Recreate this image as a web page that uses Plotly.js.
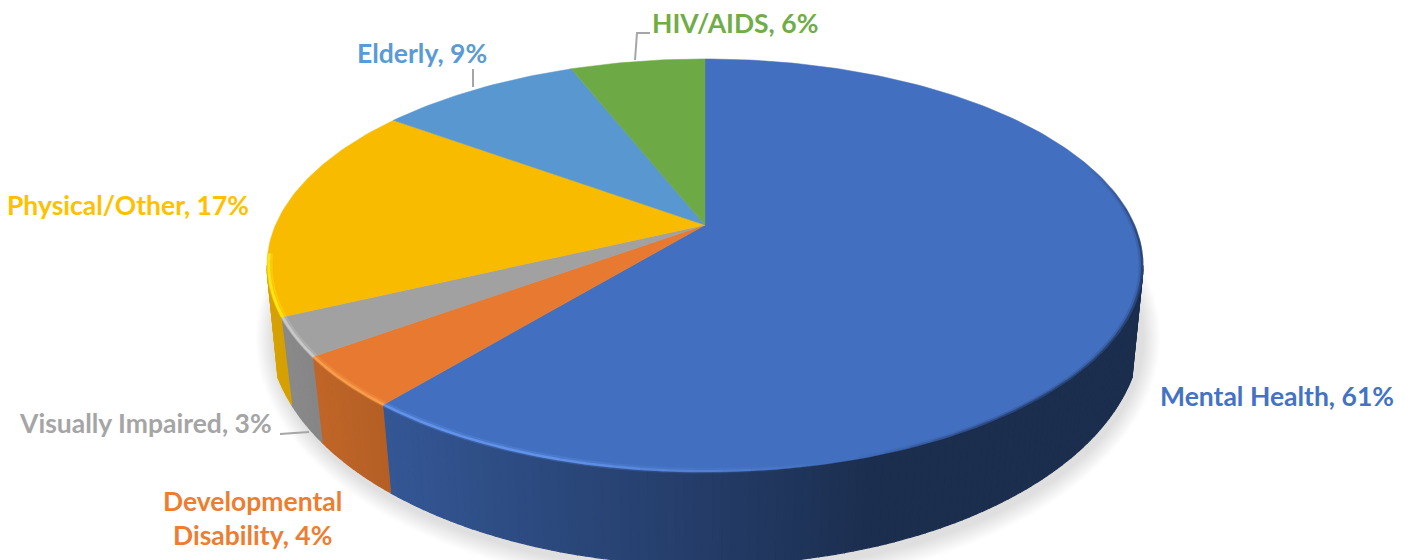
<!DOCTYPE html>
<html>
<head>
<meta charset="utf-8">
<script src="https://cdn.plot.ly/plotly-3.0.1.min.js"></script>
<style>html,body{margin:0;padding:0;background:#fff}#chart{width:1414px;height:560px}</style>
</head>
<body>
<div id="chart"></div>
<script>
// ---- data ----
const categories = ["Mental Health", "Developmental Disability", "Visually Impaired", "Physical/Other", "Elderly", "HIV/AIDS"];
const shares = [61, 4, 3, 17, 9, 6];
const colors = ["#4472C4", "#ED7D31", "#A5A5A5", "#FFC000", "#5B9BD5", "#70AD47"];
const labelBreak = [null, "Developmental<br>Disability", null, null, null, null];

// ---- geometry of the tilted disc (projection only, slices come from shares) ----
const CX = 705, APEX_Y = 225, R = 429.5, S = 198.6, K = 0.196;
const LOW = {cy: 330, rx: 436, ry: 235, shrink: 0.975};
const rad = d => d * Math.PI / 180;
function topPt(a) {
  const X = Math.sin(rad(a)), Y = Math.cos(rad(a)), d = 1 + K * Y;
  return [CX + R * X / d, APEX_Y - S * Y / d];
}
function lowPt(a) {
  const p = topPt(a), x = CX + (p[0] - CX) * LOW.shrink;
  const u = Math.min(1, Math.abs(x - CX) / LOW.rx);
  return [x, LOW.cy + LOW.ry * Math.sqrt(1 - u * u)];
}
const inward = (p, f) => [CX + (p[0] - CX) * f, 265 + (p[1] - 265) * f];
const rgb = h => [1, 3, 5].map(i => parseInt(h.slice(i, i + 2), 16));
const css = (c, a) => `rgba(${c.map(v => Math.round(Math.min(255, v))).join(",")},${a === undefined ? 1 : a})`;
const wallFactor = x => Math.max(0.40, Math.min(0.86, 0.82 - 0.42 * (x - 300) / 580));

// cumulative slice angles, clockwise from the top
const total = shares.reduce((s, v) => s + v, 0);
let run = 0;
const spans = shares.map(v => { const a0 = run / total * 360; run += v; return [a0, run / total * 360]; });

const traces = [];
function poly(pts, fill, opts) {
  traces.push(Object.assign({
    type: "scatter", mode: "lines", x: pts.map(p => p[0]), y: pts.map(p => p[1]),
    fill: "toself", fillcolor: fill, line: {width: 0, color: fill}, hoverinfo: "skip", showlegend: false
  }, opts || {}));
}
function stroke(pts, color, width) {
  traces.push({type: "scatter", mode: "lines", x: pts.map(p => p[0]), y: pts.map(p => p[1]),
    line: {width: width, color: color}, hoverinfo: "skip", showlegend: false});
}

// soft drop shadow under the lower rim
for (let n = 30; n >= 0; n -= 2) {
  const pts = [];
  for (let t = 0; t <= 360; t += 3)
    pts.push([CX + 3 + (LOW.rx + n * 0.55) * Math.cos(rad(t)), LOW.cy + 8 + (LOW.ry + n * 0.6) * Math.sin(rad(t))]);
  poly(pts, "rgba(0,0,0,0.009)");
}

// side wall
const A_RIGHT = 101.3, A_LEFT = 258.7, STEP = 1;
spans.forEach((sp, i) => {
  const base = rgb(colors[i]);
  const a0 = Math.max(sp[0], A_RIGHT), a1 = Math.min(sp[1], A_LEFT);
  for (let a = a0; a < a1; a += STEP) {
    const b = Math.min(a + STEP, a1);
    const mid = topPt((a + b) / 2);
    const c = css(base.map(v => v * wallFactor(mid[0])));
    poly([topPt(a), topPt(b), lowPt(b), lowPt(a), topPt(a)], c, {line: {width: 1.2, color: c}});
  }
});

// top face slices
spans.forEach((sp, i) => {
  const pts = [[CX, APEX_Y]];
  for (let a = sp[0]; a < sp[1]; a += 1) pts.push(topPt(a));
  pts.push(topPt(sp[1]), [CX, APEX_Y]);
  const c = css(rgb(colors[i]).map(v => v * 0.975));
  poly(pts, c, {name: categories[i], line: {width: 0.5, color: c}});
});

// bevel along the rim: light on the left of the front, dark on the right
spans.forEach((sp, i) => {
  const base = rgb(colors[i]);
  const a0 = Math.max(sp[0], 70), a1 = Math.min(sp[1], 262);
  for (let a = a0; a < a1; a += 3) {
    const b = Math.min(a + 3, a1);
    const pts = [topPt(a), topPt((a + b) / 2), topPt(b)];
    const x = pts[1][0];
    const lit = Math.max(0, Math.min(1, (840 - x) / 300));
    const dark = Math.max(0, Math.min(1, (x - 860) / 160)) * Math.max(0, Math.min(1, ((a + b) / 2 - 70) / 25));
    if (lit > 0) {
      const c = base.map(v => v + 35 + 0.12 * v);
      stroke(pts.map(p => inward(p, 0.994)), css(c, 0.22 * lit), 6);
      stroke(pts.map(p => inward(p, 0.996)), css(c, 0.6 * lit), 2.5);
    }
    if (dark > 0) {
      stroke(pts.map(p => inward(p, 0.995)), "rgba(26,43,78," + (0.18 * dark) + ")", 4);
      stroke(pts.map(p => inward(p, 0.9985)), "rgba(26,43,78," + (0.55 * dark) + ")", 2.5);
    }
  }
});

// label text comes straight from the data
const labelPos = [[1277, 396], [252, 518], [145, 423], [128, 205], [422, 53], [735, 23]];
const annotations = categories.map((c, i) => ({
  x: labelPos[i][0], y: labelPos[i][1], xref: "x", yref: "y", showarrow: false,
  text: "<b>" + (labelBreak[i] || c) + ", " + shares[i] + "%</b>",
  align: "center", xanchor: "center", yanchor: "middle",
  font: {family: "Lato, 'Noto Sans', sans-serif", size: 26.5, color: colors[i]}
}));

const leader = (path) => ({type: "path", path: path, xref: "x", yref: "y", line: {color: "#A6A6A6", width: 2}});
const shapes = [
  leader("M 473 69 L 473 87"),
  leader("M 635 60 L 637 33 L 650 33"),
  leader("M 280 434 L 309 432")
];

Plotly.newPlot("chart", traces, {
  width: 1414, height: 560,
  margin: {l: 0, r: 0, t: 0, b: 0},
  paper_bgcolor: "#fff", plot_bgcolor: "#fff",
  showlegend: false,
  xaxis: {range: [0, 1414], visible: false, fixedrange: true},
  yaxis: {range: [560, 0], visible: false, fixedrange: true},
  shapes: shapes, annotations: annotations
}, {displayModeBar: false, staticPlot: true});
</script>
</body>
</html>
